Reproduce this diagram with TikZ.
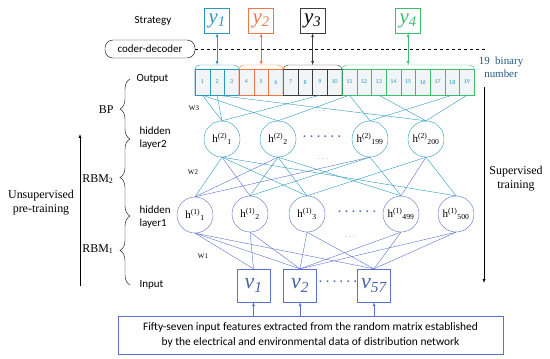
\documentclass[tikz,border=0pt]{standalone}
\usepackage{fontspec}
\setmainfont{Liberation Serif}[ItalicFont={Liberation Serif Italic}]
\newfontfamily\calibri{Carlito}
\usetikzlibrary{
  positioning,%
  % braces on the left
  decorations.pathreplacing,%
  arrows
}
\definecolor{netteal}{RGB}{42,152,192}
\definecolor{netblue}{RGB}{92,112,205}
\definecolor{grporange}{RGB}{240,120,70}
\definecolor{grpgreen}{RGB}{60,190,110}
\definecolor{grpgray}{RGB}{60,60,60}
\definecolor{labteal}{RGB}{40,90,125}
\definecolor{vcol}{RGB}{70,100,170}
\definecolor{cellfill}{RGB}{242,245,248}
\tikzset{>=latex}
\tikzset{
  neuron/.style={circle, draw, fill=white, minimum size=36bp, inner sep=0pt,
    font=\fontsize{11}{12}\selectfont},
  ybox/.style={draw, fill=white, minimum size=25bp, inner sep=0pt,
    font=\fontsize{21}{21}\selectfont\itshape},
  vbox/.style={draw=netblue, fill=white, minimum size=33bp, inner sep=0pt,
    text=vcol, font=\fontsize{22}{22}\selectfont\itshape},
  cell/.style={draw, fill=cellfill, minimum width=14.7bp, minimum height=26bp,
    inner sep=0pt, text=netteal, font=\fontsize{6}{6}\selectfont\calibri},
  layertext/.style={font=\fontsize{11}{13}\selectfont\calibri, align=left,
    anchor=west},
  sidetext/.style={font=\fontsize{12}{14}\selectfont, align=center},
  bigdots/.style={text=netblue, font=\fontsize{12}{12}\selectfont\bfseries},
  smalldots/.style={text=gray, font=\fontsize{7}{7}\selectfont},
  wlabel/.style={font=\fontsize{7}{7}\selectfont},
  netbrace/.style={decorate, decoration={brace, amplitude=10bp}},
}

\begin{document}
\begin{tikzpicture}[x=1bp, y=-1bp]
  \useasboundingbox (0,0) rectangle (550,358);

  % output cells, grouped per strategy
  \foreach \i in {1,2,3}
    \node[cell, draw=netteal] (c\i) at ({195+14.7*(\i-0.5)}, 82) {\i};
  \foreach \i in {4,5,6}
    \node[cell, draw=grporange] (c\i) at ({195+14.7*(\i-0.5)}, 82) {\i};
  \foreach \i in {7,...,10}
    \node[cell, draw=grpgray] (c\i) at ({195+14.7*(\i-0.5)}, 82) {\i};
  \foreach \i in {11,...,19}
    \node[cell, draw=grpgreen] (c\i) at ({195+14.7*(\i-0.5)}, 82) {\i};

  \coordinate (gA) at (217.05, 65); %
  \coordinate (gB) at (261.15, 65); %
  \coordinate (gC) at (312.6, 65); %
  \coordinate (gD) at (408.15, 65); %
  \begin{scope}[rounded corners=5bp]
    \draw[netteal] (c1.south west) |- (gA) -| (c3.south east); %
    \draw[grporange] (c4.south west) |- (gB) -| (c6.south east); %
    \draw[grpgray] (c7.south west) |- (gC) -| (c10.south east); %
    \draw[grpgreen] (c11.south west) |- (gD) -| (c19.south east); %
  \end{scope}

  % strategy boxes
  \node[font=\fontsize{11}{13}\selectfont\calibri] (strat) at (153,21) {Strategy};
  \node[ybox, draw=netteal, text=netteal] (y1) at (217.05,20.5) {y\textsubscript{1}};
  \node[ybox, draw=grporange, text=grporange] (y2) at (261.15,20.5) {y\textsubscript{2}};
  \node[ybox, draw=grpgray, text=black] (y3) at (312.6,20.5) {y\textsubscript{3}};
  \node[ybox, draw=grpgreen, text=grpgreen] (y4) at (408.15,20.5) {y\textsubscript{4}};
  \draw[<->, netteal] (y1) -- (gA); %
  \draw[<->, grporange] (y2) -- (gB); %
  \draw[<->, grpgray] (y3) -- (gC); %
  \draw[<->, grpgreen] (y4) -- (gD); %

  \node[draw, rounded corners=8bp, minimum width=90bp, minimum height=18bp,
    inner sep=1bp, font=\fontsize{11}{11}\selectfont\calibri] (cd) at (150,49)
    {coder-decoder};
  \coordinate (dashend) at (485,49); %
  \draw[dashed, thick] (cd) -- (dashend); %

  \node[text=labteal, font=\fontsize{11}{13}\selectfont, align=center] (bin)
    at (501,67) {19\ \ binary\\number};

  % hidden layers
  \node[neuron, draw=netteal] (h2n1) at (222,139) {h\textsuperscript{(2)}\textsubscript{1}};
  \node[neuron, draw=netteal] (h2n2) at (278,139) {h\textsuperscript{(2)}\textsubscript{2}};
  \node[neuron, draw=netteal] (h2n199) at (370,139) {h\textsuperscript{(2)}\textsubscript{199}};
  \node[neuron, draw=netteal] (h2n200) at (426,139) {h\textsuperscript{(2)}\textsubscript{200}};
  \node[bigdots] (d2) at (322,137) {. . . . . .};

  \node[neuron, draw=netblue] (h1n1) at (195,215) {h\textsuperscript{(1)}\textsubscript{1}};
  \node[neuron, draw=netblue] (h1n2) at (250,214) {h\textsuperscript{(1)}\textsubscript{2}};
  \node[neuron, draw=netblue] (h1n3) at (307,214) {h\textsuperscript{(1)}\textsubscript{3}};
  \node[neuron, draw=netblue] (h1n499) at (401,214) {h\textsuperscript{(1)}\textsubscript{499}};
  \node[neuron, draw=netblue] (h1n500) at (456,214) {h\textsuperscript{(1)}\textsubscript{500}};
  \node[bigdots] (d1) at (357,212) {. . . . . .};

  % input
  \node[vbox] (v1) at (253.5,285.5) {v\textsubscript{1}};
  \node[vbox] (v2) at (300,285.5) {v\textsubscript{2}};
  \node[vbox] (v57) at (374,285.5) {v\textsubscript{57}};
  \node[bigdots] (d0) at (338,282) {. . . . . .};

  \node[draw=netblue, fill=white, minimum width=385bp, minimum height=38bp,
    inner sep=2bp, align=center, font=\fontsize{11.5}{14.5}\selectfont\calibri]
    (feat) at (310.5,335)
    {Fifty-seven input features extracted from the random matrix established\\
     by the electrical and environmental data of distribution network};
  \draw[->, netblue] (v1 |- feat.north) -- (v1); %
  \draw[->, netblue] (v2 |- feat.north) -- (v2); %
  \draw[->, netblue] (v57 |- feat.north) -- (v57); %

  % weights
  \foreach \a/\b in {1/h2n1, 1/h2n2, 2/h2n1, 2/h2n200, 9/h2n1, 11/h2n2,
    11/h2n199, 13/h2n200, 18/h2n199, 19/h2n200}
    \draw[netteal] (c\a.south) -- (\b.north);
  \foreach \a/\b in {h2n1/h1n1, h2n1/h1n3, h2n1/h1n500, h2n2/h1n2, h2n2/h1n3,
    h2n2/h1n499, h2n199/h1n2, h2n199/h1n499, h2n200/h1n3, h2n200/h1n500}
    \draw[netteal] (\a.south) -- (\b.north);
  \foreach \a/\b in {h2n2/h1n1, h2n199/h1n1, h2n200/h1n499, h2n1/h1n2}
    \draw[netblue] (\a.south) -- (\b.north);
  \foreach \a/\b in {h1n1/v1, h1n1/v2, h1n1/v57, h1n2/v1, h1n2/v2, h1n3/v2,
    h1n3/v57, h1n499/v2, h1n499/v57, h1n500/v2, h1n500/v57}
    \draw[netblue] (\a.south) -- (\b.north);

  \node[smalldots] (s3) at (320,111) {. . .};
  \node[smalldots] (s2) at (323,159) {. . .};
  \node[smalldots] (s1) at (350,237) {. . .};
  \node[wlabel] (w3) at (194,108) {W3};
  \node[wlabel] (w2) at (193,172) {W2};
  \node[wlabel] (w1) at (203,256) {W1};

  % layer names and braces
  \node[layertext] (lout) at (133,79) {Output};
  \node[layertext] (lh2) at (136,138) {hidden\\layer2};
  \node[layertext] (lh1) at (136,217) {hidden\\layer1};
  \node[layertext] (lin) at (136,285) {Input};
  \coordinate (bOut) at (130,79); %
  \coordinate (bH2) at (130,139); %
  \coordinate (bH1) at (130,216); %
  \coordinate (bIn) at (130,285); %
  \draw[netbrace] (bH2) -- (bOut); %
  \draw[netbrace] (bH1) -- (bH2); %
  \draw[netbrace] (bIn) -- (bH1); %
  \node[sidetext, anchor=east] (bp) at (117,110) {BP};
  \node[sidetext, anchor=east] (rbm2) at (117,179) {RBM\textsubscript{2}};
  \node[sidetext, anchor=east] (rbm1) at (117,249) {RBM\textsubscript{1}};

  % training directions
  \coordinate (uStart) at (80,286); %
  \coordinate (uEnd) at (80,134); %
  \draw[->] (uStart) -- (uEnd); %
  \node[sidetext] (unsup) at (41,203) {Unsupervised\\pre-training};
  \coordinate (sStart) at (484,87); %
  \coordinate (sEnd) at (484,283); %
  \draw[->] (sStart) -- (sEnd); %
  \node[sidetext] (sup) at (516,179) {Supervised\\training};
\end{tikzpicture}
\end{document}
